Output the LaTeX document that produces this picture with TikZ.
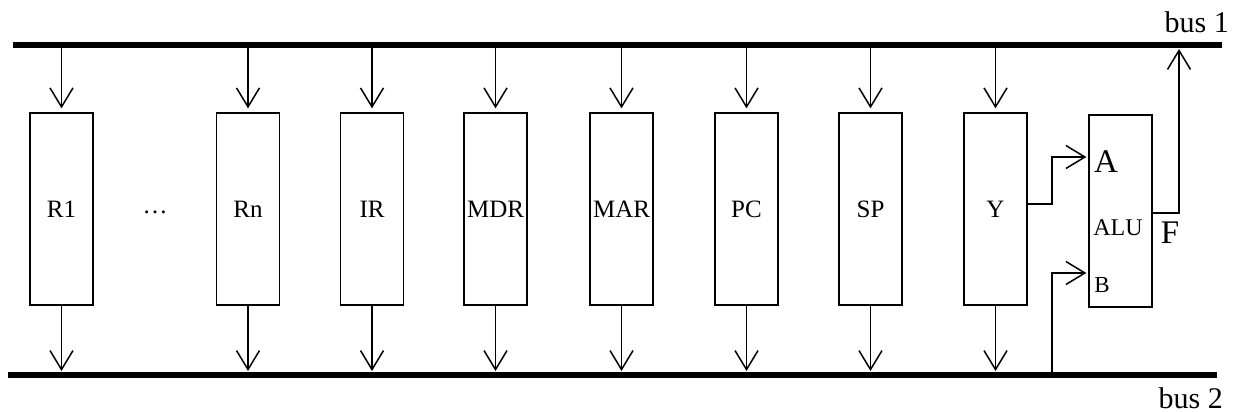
\documentclass[tikz,border=0pt]{standalone}
\usepackage{fontspec}
\setmainfont{Liberation Serif}
\usetikzlibrary{arrows.meta}
\begin{document}
\begin{tikzpicture}[x=1pt,y=-1pt,
  reg/.style={draw, line width=1.3pt, minimum width=63pt, minimum height=192pt, inner sep=0pt, font=\fontsize{25}{25}\selectfont},
  bus/.style={line width=5.5pt},
  arr/.style={line width=1.5pt, -{Straight Barb[length=19pt,width=23pt,line width=1.5pt]}},
  lbl/.style={inner sep=0pt}]
\useasboundingbox (0,0) rectangle (1234,412);
% buses
\coordinate (b1w) at (13,45); \coordinate (b1e) at (1222,45);
\coordinate (b2w) at (8,375); \coordinate (b2e) at (1217,375);
\draw[bus] (b1w) -- (b1e);
\draw[bus] (b2w) -- (b2e);
\node[lbl, font=\fontsize{30}{30}\selectfont, anchor=base east] (bus1) at (1229,33) {bus 1};
\node[lbl, font=\fontsize{30}{30}\selectfont, anchor=base east] (bus2) at (1223,408) {bus 2};
% registers
\node[reg] (r1) at (61.5,209) {R1};
\node[lbl, font=\fontsize{25}{25}\selectfont] (dots) at (155,212) {\dots};
\node[reg] (rn) at (248,209) {Rn};
\node[reg] (ir) at (372,209) {IR};
\node[reg] (mdr) at (495.5,209) {MDR};
\node[reg] (mar) at (621.5,209) {MAR};
\node[reg] (pc) at (746.5,209) {PC};
\node[reg] (sp) at (870.5,209) {SP};
\node[reg] (y) at (995.5,209) {Y};
\node[reg] (alu) at (1120.5,211) {};
\node[lbl, font=\fontsize{33}{33}\selectfont] (la) at (1106,162) {A};
\node[lbl, font=\fontsize{24}{24}\selectfont] (lalu) at (1118,228) {ALU};
\node[lbl, font=\fontsize{23}{23}\selectfont] (lb) at (1102,285) {B};
\node[lbl, font=\fontsize{33}{33}\selectfont] (lf) at (1170,233) {F};
% bus arrows
\foreach \n in {r1,rn,ir,mdr,mar,pc,sp,y}{
  \draw[arr, shorten >=4pt] (\n.north |- b1w) -- (\n.north);
  \draw[arr, shorten >=4pt] (\n.south) -- (\n.south |- b2w);
}
% ALU connections
\draw[arr, shorten >=2pt] (y.east |- 0,204) -- (1052,204) |- (alu.west |- 0,157);
\coordinate (bb) at (1052,375);
\draw[arr, shorten >=2pt] (bb) |- (alu.west |- 0,273);
\coordinate (ftop) at (1179,45);
\draw[arr, shorten >=4pt] (alu.east |- 0,213) -| (ftop);
\end{tikzpicture}
\end{document}
